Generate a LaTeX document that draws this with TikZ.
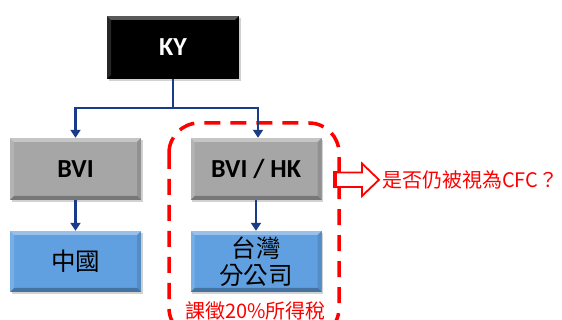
\documentclass[tikz,border=0pt]{standalone}
\usepackage{fontspec}
\setmainfont{Carlito}
\newfontfamily\cjk{Noto Sans CJK TC}
\usetikzlibrary{arrows.meta,shadows}
\definecolor{boxgray}{HTML}{A6A6A6}
\definecolor{boxblue}{HTML}{60A0E0}
\definecolor{navy}{HTML}{1A3A8A}
\definecolor{myred}{HTML}{FF0000}
\tikzset{
  bevelbox/.style={rectangle, inner sep=0pt, font=\fontsize{26}{30}\selectfont\bfseries,
    drop shadow={opacity=0.35, shadow xshift=1.5pt, shadow yshift=-2pt},
    path picture={
      \fill[white,opacity=0.35] (path picture bounding box.north west) -- (path picture bounding box.north east)
        -- ([xshift=-4pt,yshift=-4pt]path picture bounding box.north east) -- ([xshift=4pt,yshift=-4pt]path picture bounding box.north west) -- cycle;
      \fill[black,opacity=0.28] (path picture bounding box.south west) -- (path picture bounding box.south east)
        -- ([xshift=-4pt,yshift=4pt]path picture bounding box.south east) -- ([xshift=4pt,yshift=4pt]path picture bounding box.south west) -- cycle;
      \fill[black,opacity=0.12] (path picture bounding box.north east) -- (path picture bounding box.south east)
        -- ([xshift=-4pt,yshift=4pt]path picture bounding box.south east) -- ([xshift=-4pt,yshift=-4pt]path picture bounding box.north east) -- cycle;
      \fill[white,opacity=0.15] (path picture bounding box.north west) -- (path picture bounding box.south west)
        -- ([xshift=4pt,yshift=4pt]path picture bounding box.south west) -- ([xshift=4pt,yshift=-4pt]path picture bounding box.north west) -- cycle;
    }},
  graybox/.style={bevelbox, fill=boxgray, minimum width=131pt, minimum height=62pt},
  bluebox/.style={bevelbox, fill=boxblue, minimum width=131pt, minimum height=61pt, font=\cjk\fontsize{24.5}{30}\selectfont},
  conn/.style={draw=navy, line width=2.6pt},
  connarrow/.style={conn, -{Triangle[length=8pt,width=10pt]}},
  redtext/.style={text=myred, font=\cjk\fontsize{20}{24}\selectfont, inner sep=0pt},
}
\begin{document}
\begin{tikzpicture}[x=1pt,y=-1pt]
\useasboundingbox (0,0) rectangle (562,320);
\clip (0,0) rectangle (562,320);
\fill[white] (0,0) rectangle (562,320);
% dashed region
\draw[myred, line width=3.5pt, dash pattern=on 16pt off 10pt, rounded corners=30pt] (169,123) rectangle (339,338);
% boxes
\node[bevelbox, fill=black, text=white, minimum width=132pt, minimum height=63pt] (ky) at (173,47.5) {KY};
\node[graybox] (bvi) at (75.5,169) {BVI};
\node[graybox] (hk) at (256,169) {BVI / HK};
\node[bluebox] (cn) at (75.5,261.5) {中國};
\node[bluebox, align=center] (tw) at (256,261.5) {台灣\\[-3pt]分公司};
% connectors
\coordinate (j) at (173,108);
\draw[conn] (ky.south) -- (j);
\draw[connarrow] (j) -| (bvi.north);
\draw[connarrow] (j) -| ([xshift=2pt]hk.north);
\draw[connarrow] (bvi.south) -- (cn.north);
\draw[connarrow] (hk.south) -- (tw.north);
% red arrow
\fill[myred] (333,171) rectangle (337.5,188);
\draw[myred, line width=1.8pt, fill=white, line join=miter] (336,172.5) -- (362,172.5) -- (362,163.5) -- (379,179.8) -- (362,196) -- (362,187) -- (336,187) -- cycle;
\node[redtext, anchor=west] (cfc) at (382,179.5) {是否仍被視為CFC？};
\node[redtext] (tax) at (255.5,311) {課徵20\%所得稅};
\end{tikzpicture}
\end{document}
